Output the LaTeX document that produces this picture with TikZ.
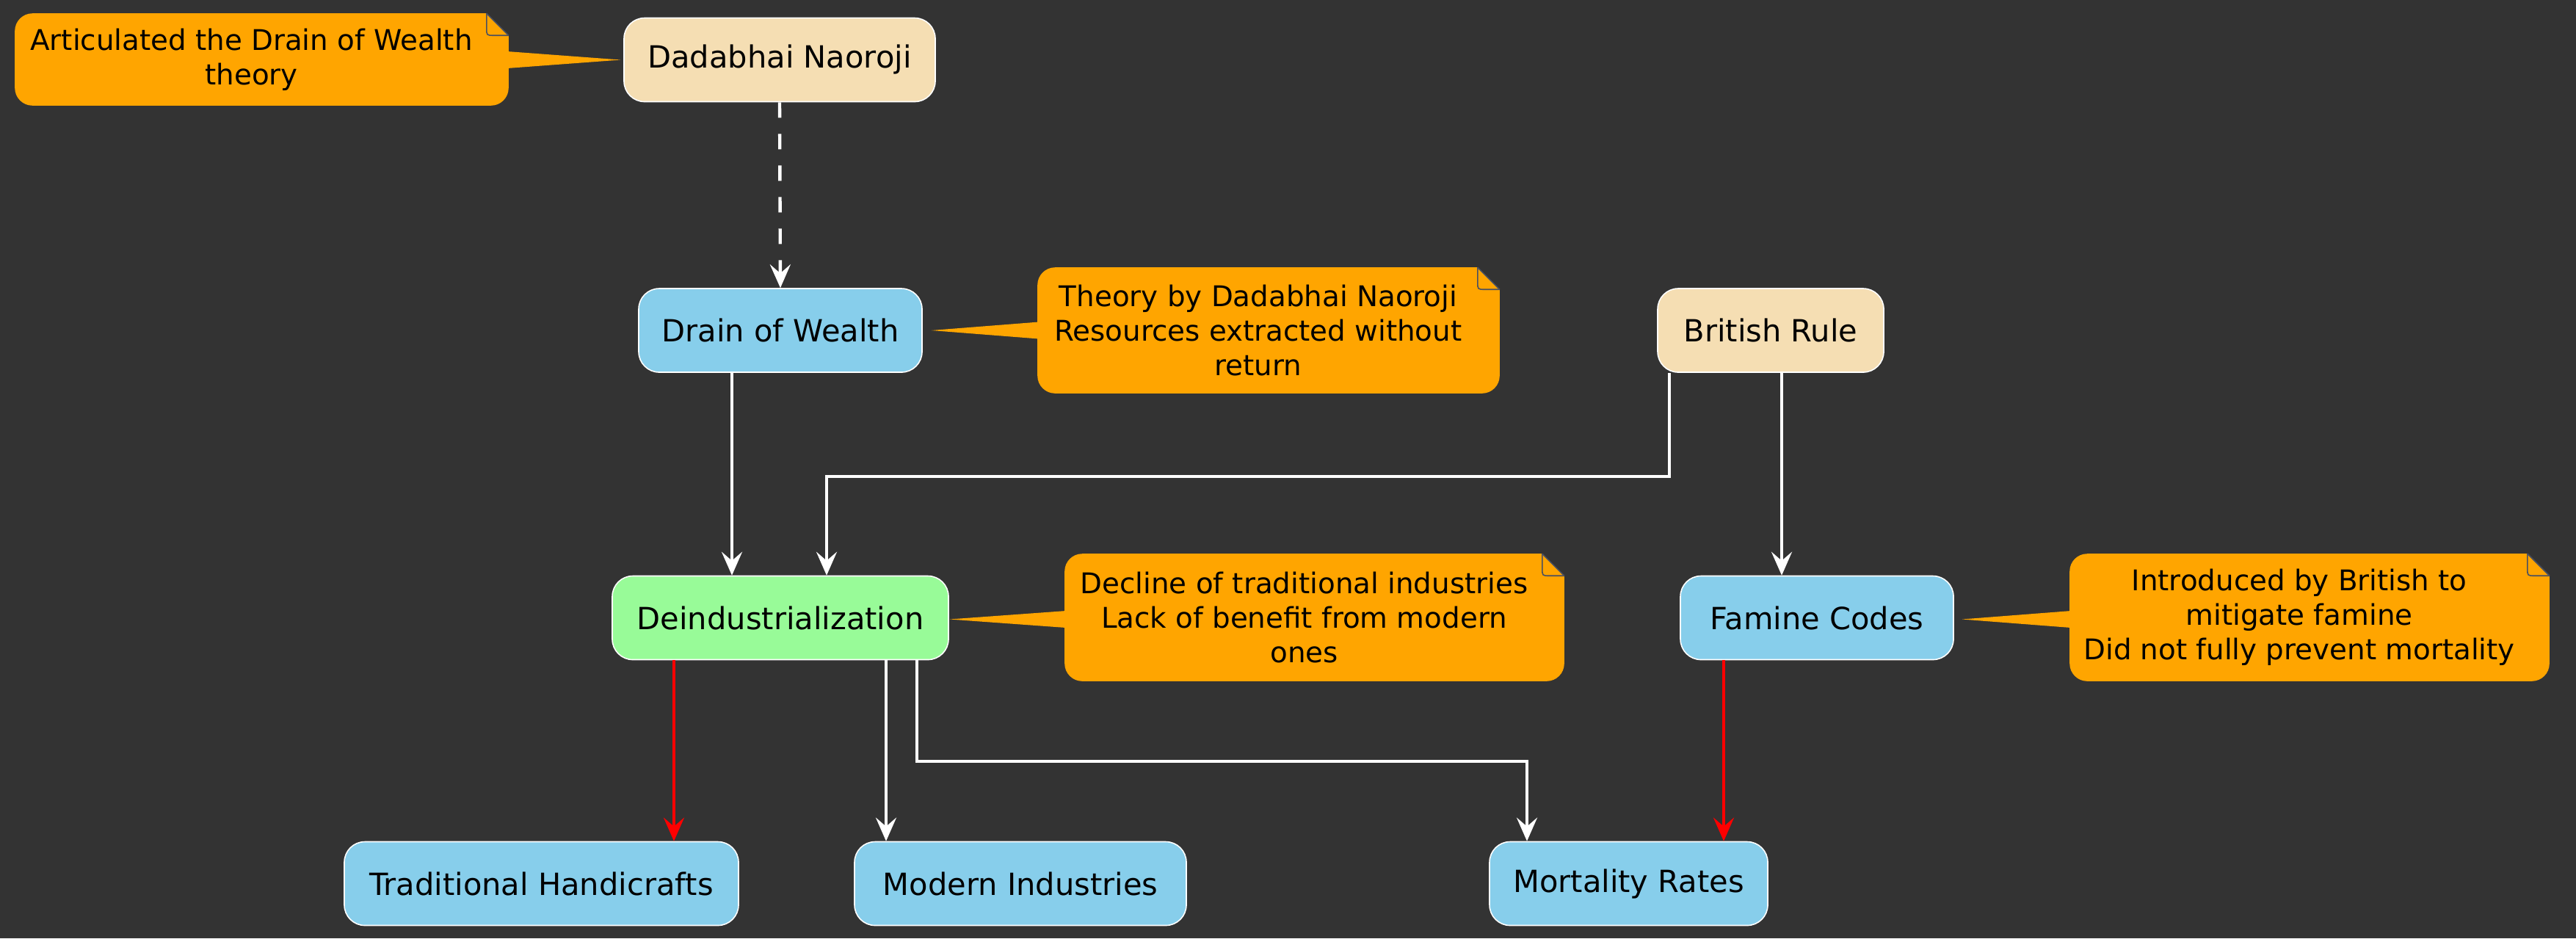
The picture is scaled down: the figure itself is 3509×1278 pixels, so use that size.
\documentclass[tikz,border=0pt]{standalone}
\usepackage{fontspec}
\setmainfont{DejaVu Sans}
\usetikzlibrary{arrows.meta,calc,backgrounds}
\definecolor{bgc}{HTML}{333333}
\definecolor{wheatc}{HTML}{F5DEB3}
\definecolor{skyc}{HTML}{87CEEB}
\definecolor{greenc}{HTML}{98FB98}
\definecolor{notec}{HTML}{FFA500}
\definecolor{foldc}{HTML}{4A5060}
\newcommand\nfont{\fontsize{10.4pt}{11.9pt}\selectfont}
\newcommand\notefont{\fontsize{9.7pt}{11.8pt}\selectfont}
\newcommand\notebody[1]{%
  \coordinate (#1-ne) at ($(#1.north east)+(28,0)$);
  \fill[notec, rounded corners=6pt] (#1.south west) rectangle (#1-ne);
  \fill[bgc] ($(#1-ne)+(-30,-2)$) -- ($(#1-ne)+(2,-2)$) -- ($(#1-ne)+(2,30)$) -- ($(#1-ne)+(0,30)$) -- ($(#1-ne)+(-30,0)$) -- cycle;
  \draw[foldline] ($(#1-ne)+(-30,0)$) -- ($(#1-ne)+(0,30)$);
  \draw[foldline] ($(#1-ne)+(-30,0)$) -- ($(#1-ne)+(-30,20)$) .. controls ($(#1-ne)+(-30,30)$) .. ($(#1-ne)+(-20,30)$) -- ($(#1-ne)+(0,30)$);
}
\begin{document}
\begin{tikzpicture}[x=0.25pt,y=-0.25pt,
  box/.style={draw=white, line width=0.4pt, rounded corners=7pt, inner sep=0pt,
    text=black, font=\nfont, minimum height=28.5pt},
  notetext/.style={inner sep=0pt, align=center, text=black, font=\notefont},
  foldline/.style={draw=foldc, line width=0.4pt},
  wline/.style={draw=white, line width=1.1pt, -{Stealth[length=8pt,width=7pt,inset=3pt]}},
  rline/.style={wline, draw=red},
  dline/.style={wline, dash pattern=on 5.25pt off 5.5pt}]
\begin{scope}[on background layer]
  \fill[bgc] (0,0) rectangle (3509,1278);
\end{scope}
\useasboundingbox (0,0) rectangle (3509,1278);

% boxes
\node[box, fill=wheatc, minimum width=106pt] (dada) at (1062,81.5) {Dadabhai Naoroji};
\node[box, fill=skyc, minimum width=96.5pt] (drain) at (1063,450) {Drain of Wealth};
\node[box, fill=wheatc, minimum width=77pt] (brit) at (2412,450) {British Rule};
\node[box, fill=greenc, minimum width=114.5pt] (deind) at (1063,841.5) {Deindustrialization};
\node[box, fill=skyc, minimum width=93pt] (famine) at (2475,841.5) {Famine Codes};
\node[box, fill=skyc, minimum width=134.25pt] (trad) at (737.5,1203.5) {Traditional Handicrafts};
\node[box, fill=skyc, minimum width=113pt] (modern) at (1390,1203.5) {Modern Industries};
\node[box, fill=skyc, minimum width=94.75pt] (mort) at (2218.5,1203.5) {Mortality Rates};

% notes
\node[notetext, minimum width=160.75pt, minimum height=31pt] (n1) at (342.5,81) {Articulated the Drain of Wealth\\theory};
\node[notetext, minimum width=150pt, minimum height=42.5pt] (n2) at (1714,450) {Theory by Dadabhai Naoroji\\Resources extracted without\\return};
\node[notetext, minimum width=162.75pt, minimum height=43pt] (n3) at (1776.5,841) {Decline of traditional industries\\Lack of benefit from modern\\ones};
\node[notetext, minimum width=156pt, minimum height=43pt] (n4) at (3132,841) {Introduced by British to\\mitigate famine\\Did not fully prevent mortality};

\coordinate (t1) at ($(dada.west)+(-4,0)$);
\coordinate (t2) at ($(drain.east)+(12,0)$);
\coordinate (t3) at ($(deind.east)+(1,2)$);
\coordinate (t4) at ($(famine.east)+(11,2)$);

\begin{scope}[on background layer]
  \notebody{n1}
  \notebody{n2}
  \notebody{n3}
  \notebody{n4}
  \fill[notec] (t1) -- ($(n1-ne |- t1)+(-2,-11.5)$) -- ($(n1-ne |- t1)+(-2,11.5)$) -- cycle;
  \fill[notec] (t2) -- ($(n2.west |- t2)+(2,-11.5)$) -- ($(n2.west |- t2)+(2,11.5)$) -- cycle;
  \fill[notec] (t3) -- ($(n3.west |- t3)+(2,-11.5)$) -- ($(n3.west |- t3)+(2,11.5)$) -- cycle;
  \fill[notec] (t4) -- ($(n4.west |- t4)+(2,-11.5)$) -- ($(n4.west |- t4)+(2,11.5)$) -- cycle;
\end{scope}

% connectors
\draw[dline] (dada.south) -- (drain.north);
\draw[wline] ($(drain.south)+(-66,0)$) -- ($(deind.north)+(-66,0)$);
\draw[wline] ($(brit.south)+(-138,0)$) |- ($(deind.north)+(63,-135)$) -- ($(deind.north)+(63,0)$);
\draw[wline] ($(brit.south)+(15,0)$) -- ($(famine.north)+(-48,0)$);
\draw[rline] ($(deind.south)+(-145,0)$) -- ($(trad.north)+(180.5,0)$);
\draw[wline] ($(deind.south)+(144,0)$) -- ($(modern.north)+(-183,0)$);
\draw[wline] ($(deind.south)+(186,0)$) |- ($(mort.north)+(-138.5,-109)$) -- ($(mort.north)+(-138.5,0)$);
\draw[rline] ($(famine.south)+(-127,0)$) -- ($(mort.north)+(129.5,0)$);
\end{tikzpicture}
\end{document}
